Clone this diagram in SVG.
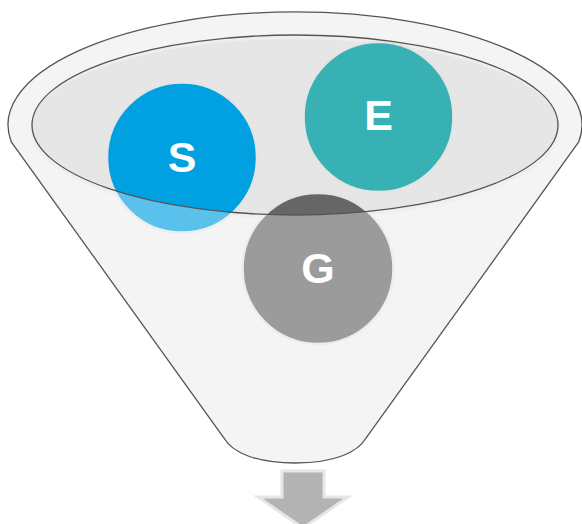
<svg xmlns="http://www.w3.org/2000/svg" width="582" height="524" viewBox="0 0 582 524">
  <style>
    .rim { fill: none; stroke: #555555; stroke-width: 1.3; }
    .ball { stroke: #e4e4e4; stroke-width: 2.5; }
    .lbl { font-family: "Liberation Sans", Arial, sans-serif; font-weight: bold; font-size: 43px; fill: #ffffff; text-anchor: middle; }
  </style>
  <defs>
    <path id="body" d="M 11.3 142 A 287 113 0 1 1 578.7 142 L 366 438 C 358 452 335 463 295 463 C 255 463 232 452 224 438 Z"/>
  </defs>
  <rect width="582" height="524" fill="#ffffff"/>
  <g id="funnel-back">
    <use href="#body" fill="#eeeeee"/>
    <ellipse cx="295" cy="129" rx="265" ry="90" fill="#e6e6e6"/>
  </g>
  <g id="node-s">
    <circle class="ball" cx="182" cy="157.5" r="75" fill="#00a0e1"/>
    <text class="lbl" x="182" y="171.5">S</text>
  </g>
  <g id="node-e">
    <circle class="ball" cx="378.5" cy="117" r="75" fill="#38b1b5"/>
    <text class="lbl" x="378.5" y="130">E</text>
  </g>
  <g id="node-g">
    <circle class="ball" cx="318" cy="268.5" r="75.5" fill="#666666"/>
    <text class="lbl" x="318" y="283">G</text>
  </g>
  <g id="funnel-front">
    <path fill-rule="evenodd" fill="#ffffff" fill-opacity="0.35" d="M 11.3 142 A 287 113 0 1 1 578.7 142 L 366 438 C 358 452 335 463 295 463 C 255 463 232 452 224 438 Z M 32 125 A 263 90 0 1 0 558 125 A 263 90 0 1 0 32 125 Z"/>
    <use href="#body" class="rim"/>
    <ellipse class="rim" cx="295" cy="125" rx="263" ry="90"/>
  </g>
  <g id="arrow">
    <polygon points="282,471 324,471 324,497 348,497 303,528 258,497 282,497" fill="#b3b3b3" stroke="#e6e6e6" stroke-width="3" stroke-linejoin="miter"/>
  </g>
</svg>
